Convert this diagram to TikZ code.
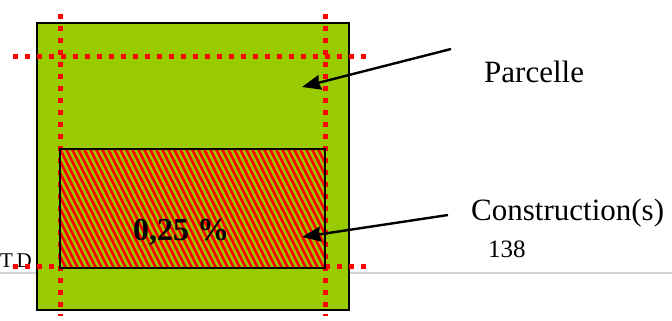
\documentclass[tikz,border=0pt]{standalone}
\usepackage{fontspec}
\setmainfont{Liberation Serif}
\usetikzlibrary{arrows.meta}
\definecolor{vertparcelle}{RGB}{153,204,0}

\begin{document}
\begin{tikzpicture}[x=1pt, y=-1pt, >={Stealth[length=19pt,width=15pt,inset=2pt]},
  limite/.style={red, line width=5pt, dash pattern=on 5pt off 7pt},
  fleche/.style={->, line width=2.4pt},
  etiquette/.style={inner sep=0pt, anchor=base west}]
  \useasboundingbox (0,0) rectangle (672,321);

  % 1. ligne de base et T.D
  \draw[gray!35, line width=1.5pt] (0,273) -- (672,273);
  \node[etiquette, font=\fontsize{21}{24}\selectfont] (td) at (0,267) {T.D};

  % 2. parcelle
  \coordinate (P1) at (37,23);
  \coordinate (P2) at (349,310);
  \filldraw[fill=vertparcelle, draw=black, line width=1.2pt] (P1) rectangle (P2);

  % 3. limites en pointillés
  \draw[limite] (13,57) -- (367,57);
  \draw[limite] (13,266) -- (367,266);
  \draw[limite] (60,14) -- (60,316);
  \draw[limite] (325,14) -- (325,316);

  % 4. construction hachurée
  \coordinate (C1) at (60,149);
  \coordinate (C2) at (325,268);
  \fill[vertparcelle] (C1) rectangle (C2);
  \begin{scope}
    \clip (C1) rectangle (C2);
    \foreach \i in {0,...,56}
      \draw[red, line width=2.7pt] (\i*6,149) -- ++(60,119);
  \end{scope}
  \draw[line width=1.4pt] (C1) rectangle (C2);

  % 5. textes
  \node[etiquette, font=\fontsize{32}{36}\selectfont\bfseries] (taux) at (133,240) {0,25 \%};
  \node[etiquette, font=\fontsize{31}{36}\selectfont] (parcelle) at (484,82) {Parcelle};
  \node[etiquette, font=\fontsize{31}{36}\selectfont] (construction) at (471,220) {Construction(s)};
  \node[etiquette, font=\fontsize{25}{30}\selectfont] (numero) at (488,257) {138};

  % 6. flèches
  \coordinate (depart1) at (451,49);
  \coordinate (pointe1) at (302,87);
  \coordinate (depart2) at (448,215);
  \coordinate (pointe2) at (302,237);
  \draw[fleche] (depart1) -- (pointe1);
  \draw[fleche] (depart2) -- (pointe2);

\end{tikzpicture}
\end{document}
